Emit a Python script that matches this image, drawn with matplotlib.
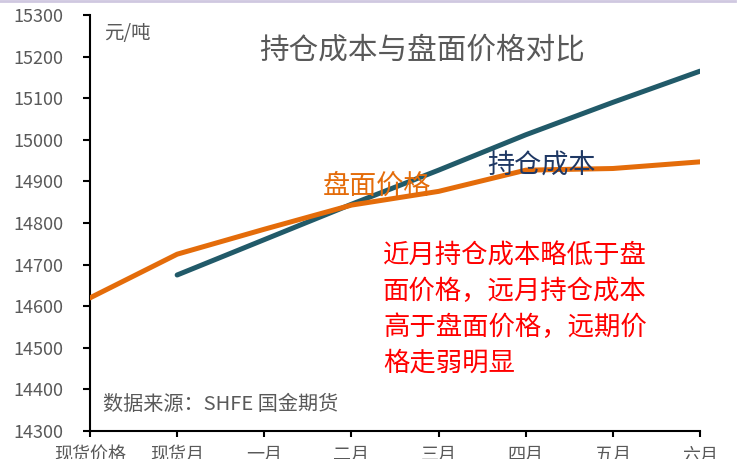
import numpy as np
import matplotlib
matplotlib.use('Agg')
import matplotlib.pyplot as plt
from matplotlib.lines import Line2D

plt.rcParams['font.family'] = ['Noto Sans CJK SC', 'DejaVu Sans']

# data
categories = ['现货价格', '现货月', '一月', '二月', '三月', '四月', '五月', '六月']
pan_mian = [14620, 14725, 14785, 14843, 14876, 14927, 14931, 14947]
chi_cang = [np.nan, 14675, 14760, 14845, 14927, 15012, 15090, 15165]

ORANGE = '#E46C0A'
TEAL = '#215A69'
GRAY = '#595959'

fig = plt.figure(figsize=(7.55, 4.59), dpi=100)
ax = fig.add_axes([90 / 755, 1 - 431 / 459, 610 / 755, 416 / 459])

x = np.arange(len(categories))
ax.plot(x, pan_mian, color=ORANGE, lw=3.6, solid_capstyle='round', solid_joinstyle='round', zorder=3)
ax.plot(x, chi_cang, color=TEAL, lw=3.6, solid_capstyle='round', solid_joinstyle='round', zorder=2)

ax.set_xlim(0, len(categories) - 1)
ax.set_ylim(14300, 15300)
ax.set_yticks(np.arange(14300, 15301, 100))
ax.set_xticks(x)
ax.set_xticklabels(categories)

for s in ['top', 'right']:
    ax.spines[s].set_visible(False)
for s in ['left', 'bottom']:
    ax.spines[s].set_linewidth(1.5)
    ax.spines[s].set_color('black')

ax.tick_params(axis='y', direction='out', length=5, width=1.5, pad=14, labelsize=13, labelcolor=GRAY)
ax.tick_params(axis='x', direction='out', length=4, width=1.5, pad=7, labelsize=13, labelcolor=GRAY)

# texts
fig.text(104 / 755, 1 - 33 / 459, '元/吨', fontsize=14, color=GRAY, va='center', ha='left')
fig.text(422 / 755, 1 - 50 / 459, '持仓成本与盘面价格对比', fontsize=21.3, color=GRAY, ha='center', va='center')
fig.text(541 / 755, 1 - 166 / 459, '持仓成本', fontsize=19.5, color='#1F3864', ha='center', va='center')
fig.text(377 / 755, 1 - 186 / 459, '盘面价格', fontsize=19.5, color=ORANGE, ha='center', va='center')
fig.text(383 / 755, 1 - 243 / 459,
         '近月持仓成本略低于盘\n面价格，远月持仓成本\n高于盘面价格，远期价\n格走弱明显',
         fontsize=19, color='red', ha='left', va='top', linespacing=1.4)
fig.text(103 / 755, 1 - 405 / 459, '数据来源：SHFE 国金期货', fontsize=14.5, color=GRAY, ha='left', va='center')

# faint frame line at top
fig.add_artist(Line2D([0, 735 / 755], [0.997, 0.997], transform=fig.transFigure, color='#CFC8E0', lw=2))

fig.savefig('out.png', dpi=100)
